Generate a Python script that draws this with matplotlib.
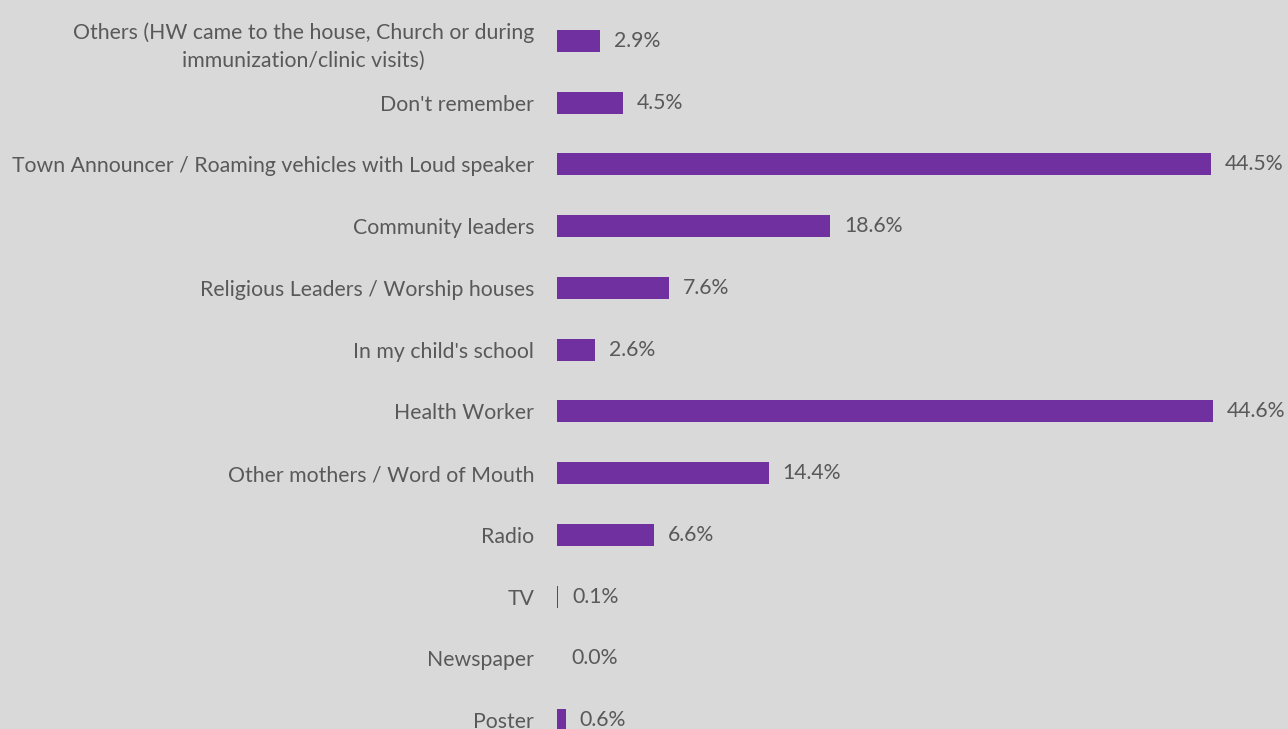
import numpy as np
import matplotlib.pyplot as plt

# sources of information, bottom to top
categories = [
    "Poster",
    "Newspaper",
    "TV",
    "Radio",
    "Other mothers / Word of Mouth",
    "Health Worker",
    "In my child's school",
    "Religious Leaders / Worship houses",
    "Community leaders",
    "Town Announcer / Roaming vehicles with Loud speaker",
    "Don't remember",
    "Others (HW came to the house, Church or during\nimmunization/clinic visits)",
]
values = [0.6, 0.0, 0.1, 6.6, 14.4, 44.6, 2.6, 7.6, 18.6, 44.5, 4.5, 2.9]

bg = "#d9d9d9"
bar_col = "#7030a0"
txt_col = "#595959"
fs = 15.3

plt.rcParams['font.family'] = ['Lato', 'DejaVu Sans']

fig = plt.figure(figsize=(12.88, 7.29), dpi=100, facecolor=bg)
ax = fig.add_axes([557 / 1288, 0, 1 - 557 / 1288, 1], facecolor=bg)

y = np.arange(len(categories))
ax.barh(y, values, height=0.356, color=bar_col, linewidth=0)

for yi, v in zip(y, values):
    ax.annotate(f"{v:.1f}%", xy=(v, yi), xytext=(10, 0), textcoords="offset points",
                ha="left", va="center", fontsize=fs, color=txt_col)

ax.set_xlim(0, (1288 - 557) / 14.7)
ax.set_ylim(-0.146, 11.664)

ax.set_yticks(y)
ax.set_yticklabels(categories, fontsize=fs, color=txt_col)
for lab in ax.get_yticklabels():
    lab.set_multialignment("center")
    lab.set_linespacing(1.45)
ax.tick_params(axis="y", length=0, pad=16.5)
ax.set_xticks([])
for s in ax.spines.values():
    s.set_visible(False)

fig.savefig("out.png", dpi=100, facecolor=bg)
